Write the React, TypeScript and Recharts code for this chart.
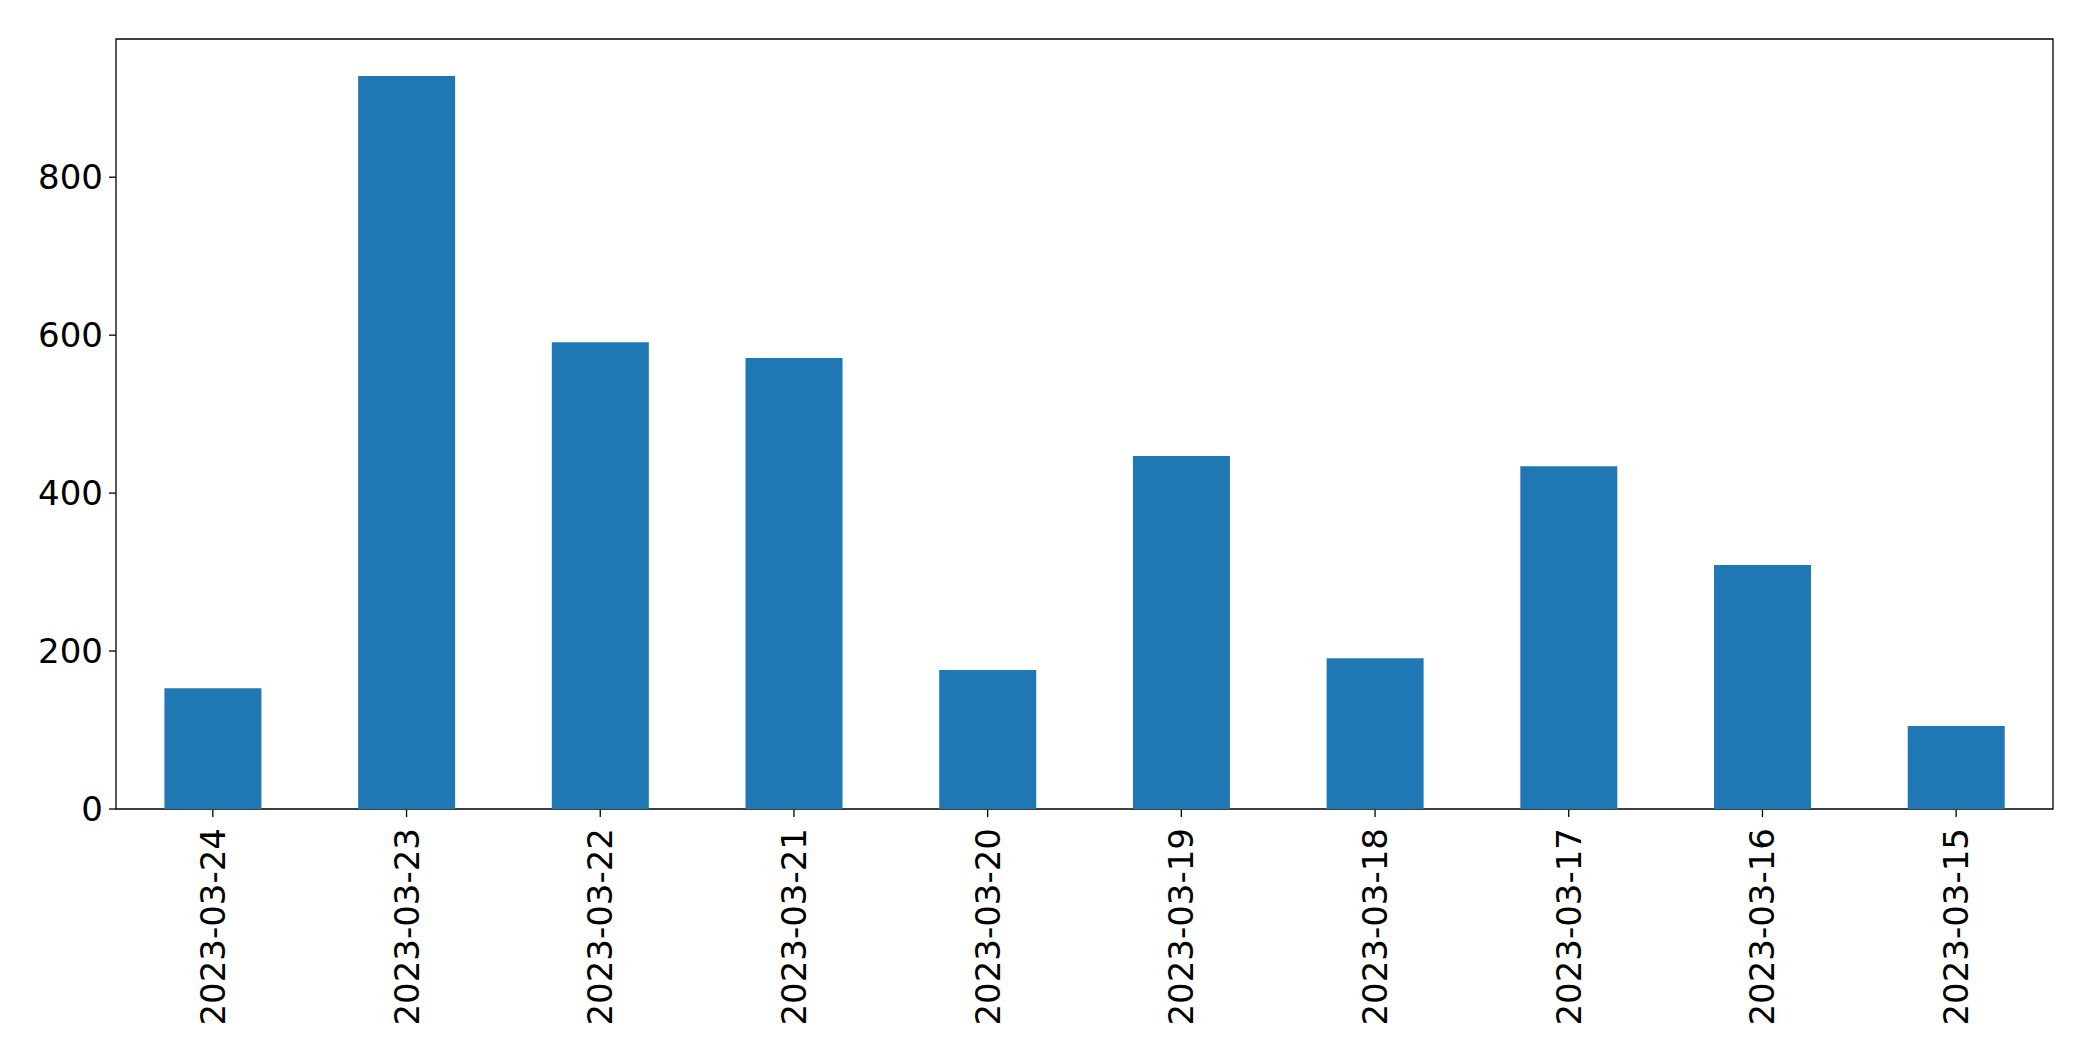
import { BarChart, Bar, XAxis, YAxis, ReferenceArea } from "recharts"

const dates = [
  "2023-03-24",
  "2023-03-23",
  "2023-03-22",
  "2023-03-21",
  "2023-03-20",
  "2023-03-19",
  "2023-03-18",
  "2023-03-17",
  "2023-03-16",
  "2023-03-15",
]

const counts = [153, 928, 591, 571, 176, 447, 191, 434, 309, 105]

const yTicks = [0, 200, 400, 600, 800]

const data = dates.map((date, i) => ({ date, count: counts[i] }))

const FONT = "'DejaVu Sans', sans-serif"
const FONT_SIZE = 34

// rotated date labels, reading bottom to top like matplotlib's rotation=90
function DateTick(props: any) {
  const { x, y, payload } = props
  return (
    <g>
      <line x1={x} y1={y - 7} x2={x} y2={y} stroke="#000" strokeWidth={1.3} />
      <text
        transform={`translate(${x}, ${y + 11}) rotate(-90)`}
        textAnchor="end"
        dominantBaseline="central"
        fontSize={FONT_SIZE}
        fontFamily={FONT}
        fill="#000"
      >
        {payload.value}
      </text>
    </g>
  )
}

export default function App() {
  return (
    <div style={{ position: "absolute", left: 0, top: 0, width: 2093, height: 1061, background: "#fff" }}>
      <BarChart
        width={2093}
        height={1061}
        data={data}
        margin={{ top: 39, right: 40, left: 16, bottom: 22 }}
        barCategoryGap="25%"
      >
        <XAxis
          dataKey="date"
          interval={0}
          height={230}
          axisLine={false}
          tickLine={false}
          tick={<DateTick />}
        />
        <YAxis
          width={100}
          domain={[0, 975]}
          ticks={yTicks}
          allowDataOverflow
          tickSize={7}
          tickMargin={6}
          axisLine={false}
          tickLine={{ stroke: "#000", strokeWidth: 1.3 }}
          tick={{ fontSize: FONT_SIZE, fill: "#000", fontFamily: FONT }}
        />
        <Bar dataKey="count" fill="#1f77b4" isAnimationActive={false} />
        {/* plot frame */}
        <ReferenceArea
          y1={0}
          y2={975}
          fill="none"
          fillOpacity={0}
          stroke="#000"
          strokeWidth={1.3}
          ifOverflow="visible"
        />
      </BarChart>
    </div>
  )
}
